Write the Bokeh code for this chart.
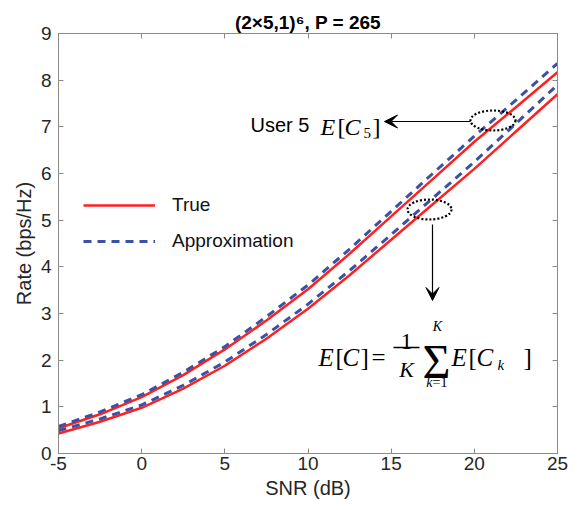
import math
from bokeh.plotting import figure
from bokeh.models import (Range1d, LinearAxis, Label, Arrow, VeeHead, FixedTicker, Legend)
from bokeh.embed import file_html
from bokeh.resources import INLINE

# ---- data ----
snr = [-5, -2.5, 0, 2.5, 5, 7.5, 10, 12.5, 15, 17.5, 20, 22.5, 25]
true_user5 = [0.54, 0.84, 1.21, 1.68, 2.23, 2.85, 3.52, 4.28, 5.08, 5.88, 6.68, 7.42, 8.17]
approx_user5 = [0.58, 0.89, 1.26, 1.74, 2.29, 2.93, 3.61, 4.38, 5.19, 6.00, 6.80, 7.57, 8.36]
true_avg = [0.43, 0.68, 0.98, 1.39, 1.88, 2.46, 3.10, 3.82, 4.58, 5.34, 6.10, 6.90, 7.70]
approx_avg = [0.49, 0.74, 1.04, 1.46, 1.96, 2.55, 3.20, 3.92, 4.69, 5.47, 6.25, 7.07, 7.90]
x_ticks = [-5, 0, 5, 10, 15, 20, 25]
x_tick_labels = ["-5", "0", "5", "10", "15", "20", "25"]
y_ticks = [0, 1, 2, 3, 4, 5, 6, 7, 8, 9]

RED = "#ff2020"
BLUE = "#3a52a6"
AX = "#8a8a8a"
TXT = "#262626"
SANS = "Liberation Sans"
SERIF = "Liberation Serif"

p = figure(width=585, height=510, output_backend="svg", toolbar_location=None,
           x_range=Range1d(-5, 25), y_range=Range1d(0, 9),
           min_border_left=58, min_border_right=28, min_border_top=33, min_border_bottom=57)
p.background_fill_color = "white"
p.border_fill_color = "white"
p.grid.visible = False
p.outline_line_color = AX

p.title.text = "(2\u00d75,1)\u2076, P = 265"
p.title.align = "center"
p.title.text_font = SANS
p.title.text_font_size = "19px"
p.title.text_font_style = "bold"
p.title.text_color = "black"
p.title.standoff = 2

# page-pixel -> data helpers for annotation placement
XS = (557 - 58) / 30.0
YS = (453 - 33) / 9.0
def dx(px):
    return -5 + (px - 58) / XS
def dy(py):
    return (453 - py) / YS

for ax in (p.xaxis[0], p.yaxis[0]):
    ax.axis_line_color = AX
    ax.major_tick_line_color = AX
    ax.major_tick_in = 5
    ax.major_tick_out = 0
    ax.minor_tick_line_color = None
    ax.major_label_text_font = SANS
    ax.major_label_text_font_size = "19px"
    ax.major_label_text_color = TXT
    ax.axis_label_text_font = SANS
    ax.axis_label_text_font_size = "20px"
    ax.axis_label_text_font_style = "normal"
    ax.axis_label_text_color = TXT
p.xaxis.ticker = FixedTicker(ticks=x_ticks)
p.xaxis.major_label_overrides = dict(zip(x_ticks, x_tick_labels))
p.yaxis.ticker = FixedTicker(ticks=y_ticks)
p.xaxis.major_label_standoff = 3
p.yaxis.major_label_standoff = 7
p.xaxis.axis_label = "SNR (dB)"
p.yaxis.axis_label = "Rate (bps/Hz)"
p.xaxis.axis_label_standoff = 4
p.yaxis.axis_label_standoff = 3

# box axes (top, right) with ticks only
for loc, tk in (("right", y_ticks), ("above", x_ticks)):
    a = LinearAxis(ticker=FixedTicker(ticks=tk))
    a.axis_line_color = AX
    a.major_tick_line_color = AX
    a.major_tick_in = 5
    a.major_tick_out = 0
    a.minor_tick_line_color = None
    a.major_label_text_font_size = "1px"
    a.major_label_text_color = None
    a.major_label_standoff = 0
    p.add_layout(a, loc)

# curves
r1 = p.line(snr, true_user5, line_color=RED, line_width=2.5)
p.line(snr, true_avg, line_color=RED, line_width=2.5)
r2 = p.line(snr, approx_user5, line_color=BLUE, line_width=3, line_dash="8 6")
p.line(snr, approx_avg, line_color=BLUE, line_width=3, line_dash="8 6")

legend = Legend(items=[("True", [r1]), ("Approximation", [r2])],
                location=(25, 201), padding=0, margin=0, spacing=14,
                glyph_width=72, glyph_height=20, label_standoff=17, label_height=20,
                label_text_font=SANS, label_text_font_size="19px", label_text_color="#111111",
                background_fill_alpha=0, border_line_alpha=0)
p.add_layout(legend, "center")

# dotted ellipses
p.ellipse(x=[dx(492.5), dx(429)], y=[dy(120), dy(209)],
          width=[45 / XS, 44 / XS], height=[20 / YS, 20 / YS],
          fill_alpha=0, line_color="black", line_dash="2 2", line_width=2.2)

# arrows
p.add_layout(Arrow(end=VeeHead(size=13, fill_color="black", line_color="black"),
                   x_start=dx(470), y_start=dy(121), x_end=dx(384), y_end=dy(121),
                   line_color="black", line_width=1.2))
p.add_layout(Arrow(end=VeeHead(size=13, fill_color="black", line_color="black"),
                   x_start=dx(432), y_start=dy(224), x_end=dx(432), y_end=dy(300),
                   line_color="black", line_width=1.2))

def lab(text, px, py, size, font=SANS, style="normal", align="left", baseline="alphabetic", color="black"):
    p.add_layout(Label(x=dx(px), y=dy(py), text=text, text_font=font, text_font_style=style,
                       text_font_size=f"{size}px", text_align=align, text_baseline=baseline,
                       text_color=color))

# User 5 E[C_5]
lab("User 5", 250, 124, 20)
lab("E", 320, 126, 24, font=SERIF, style="italic")
lab("[", 337, 126, 24, font=SERIF)
lab("C", 344, 126, 24, font=SERIF, style="italic")
lab("5", 363, 132, 15, font=SERIF)
lab("]", 372, 126, 24, font=SERIF)

# E[C] = 1/K sum E[C_k]
o = -4
lab("E", 322 + o, 357, 25, font=SERIF, style="italic")
lab("[", 339 + o, 357, 25, font=SERIF)
lab("C", 346 + o, 357, 25, font=SERIF, style="italic")
lab("]", 364 + o, 357, 25, font=SERIF)
lab("=", 375 + o, 357, 25, font=SERIF)
lab("1", 410 + o, 341, 23, font=SERIF, align="center")
p.add_layout(Arrow(end=None, start=None, x_start=dx(397 + o), y_start=dy(347), x_end=dx(423 + o), y_end=dy(347),
                   line_color="black", line_width=1.3))
lab("K", 410 + o, 369, 22, font=SERIF, style="italic", align="center")
lab("\u03a3", 440 + o, 361, 48, font=SERIF, align="center")
lab("K", 441 + o, 326, 14, font=SERIF, style="italic", align="center")
lab("k", 436 + o, 382, 14, font=SERIF, style="italic", align="right")
lab("=1", 436 + o, 382, 14, font=SERIF)
lab("E", 455 + o, 357, 25, font=SERIF, style="italic")
lab("[", 472 + o, 357, 25, font=SERIF)
lab("C", 480 + o, 357, 25, font=SERIF, style="italic")
lab("k", 501 + o, 364, 15, font=SERIF, style="italic")
lab("]", 527 + o, 357, 25, font=SERIF)

open("out.html", "w").write(file_html(p, INLINE))
